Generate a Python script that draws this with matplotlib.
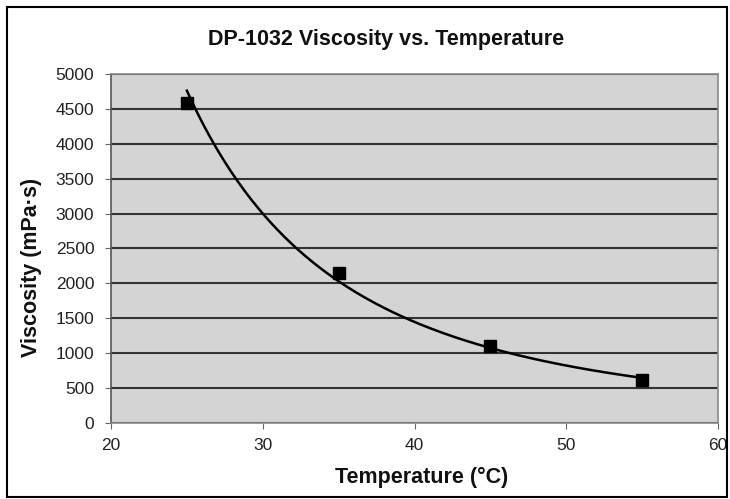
import numpy as np
import matplotlib.pyplot as plt
from matplotlib.patches import Rectangle

plt.rcParams['font.family'] = ['Liberation Sans', 'DejaVu Sans']

temperature = [25, 35, 45, 55]
viscosity = [4580, 2150, 1100, 620]

x_ticks = [20, 30, 40, 50, 60]
y_ticks = [0, 500, 1000, 1500, 2000, 2500, 3000, 3500, 4000, 4500, 5000]

# power trendline, fitted in log space like Excel does
b, ln_a = np.polyfit(np.log(temperature), np.log(viscosity), 1)
xt = np.linspace(min(temperature), max(temperature), 200)
yt = np.exp(ln_a) * xt ** b

W, H = 730, 499
fig = plt.figure(figsize=(W / 100, H / 100), dpi=100)
ax = fig.add_axes([111 / W, 1 - 423 / H, 607 / W, 349 / H])
ax.set_facecolor('#d4d4d4')

ax.plot(xt, yt, color='black', lw=1.8, zorder=3)
ax.plot(temperature, viscosity, 's', color='black', ms=8, zorder=4)

ax.set_xlim(20, 60)
ax.set_ylim(0, 5000)
ax.set_xticks(x_ticks)
ax.set_yticks(y_ticks)
ax.yaxis.grid(True, color='#333333', lw=1.5)
ax.set_axisbelow(True)
for s in ax.spines.values():
    s.set_color('#8a8a8a')
    s.set_linewidth(1.2)
ax.spines['left'].set_color('#555555')
ax.tick_params(direction='out', length=4, color='#666666', labelsize=12.5,
               labelcolor='#222222')
ax.tick_params(axis='y', pad=8)
ax.tick_params(axis='x', pad=7)

fig.text(386 / W, 1 - 40 / H, 'DP-1032 Viscosity vs. Temperature', fontsize=15.5,
         fontweight='bold', ha='center', va='center', color='#111111')
fig.text(422 / W, 1 - 477 / H, 'Temperature (°C)', fontsize=15.5,
         fontweight='bold', ha='center', va='center', color='#111111')
fig.text(32 / W, 1 - 267 / H, 'Viscosity (mPa·s)', fontsize=15.5, rotation=90,
         fontweight='bold', ha='center', va='center', color='#111111')

fig.patches.append(Rectangle((7 / W, 2 / H), (W - 10) / W, (H - 9) / H,
                             transform=fig.transFigure, fill=False,
                             edgecolor='black', lw=1.5))

fig.savefig('out.png', dpi=100)
